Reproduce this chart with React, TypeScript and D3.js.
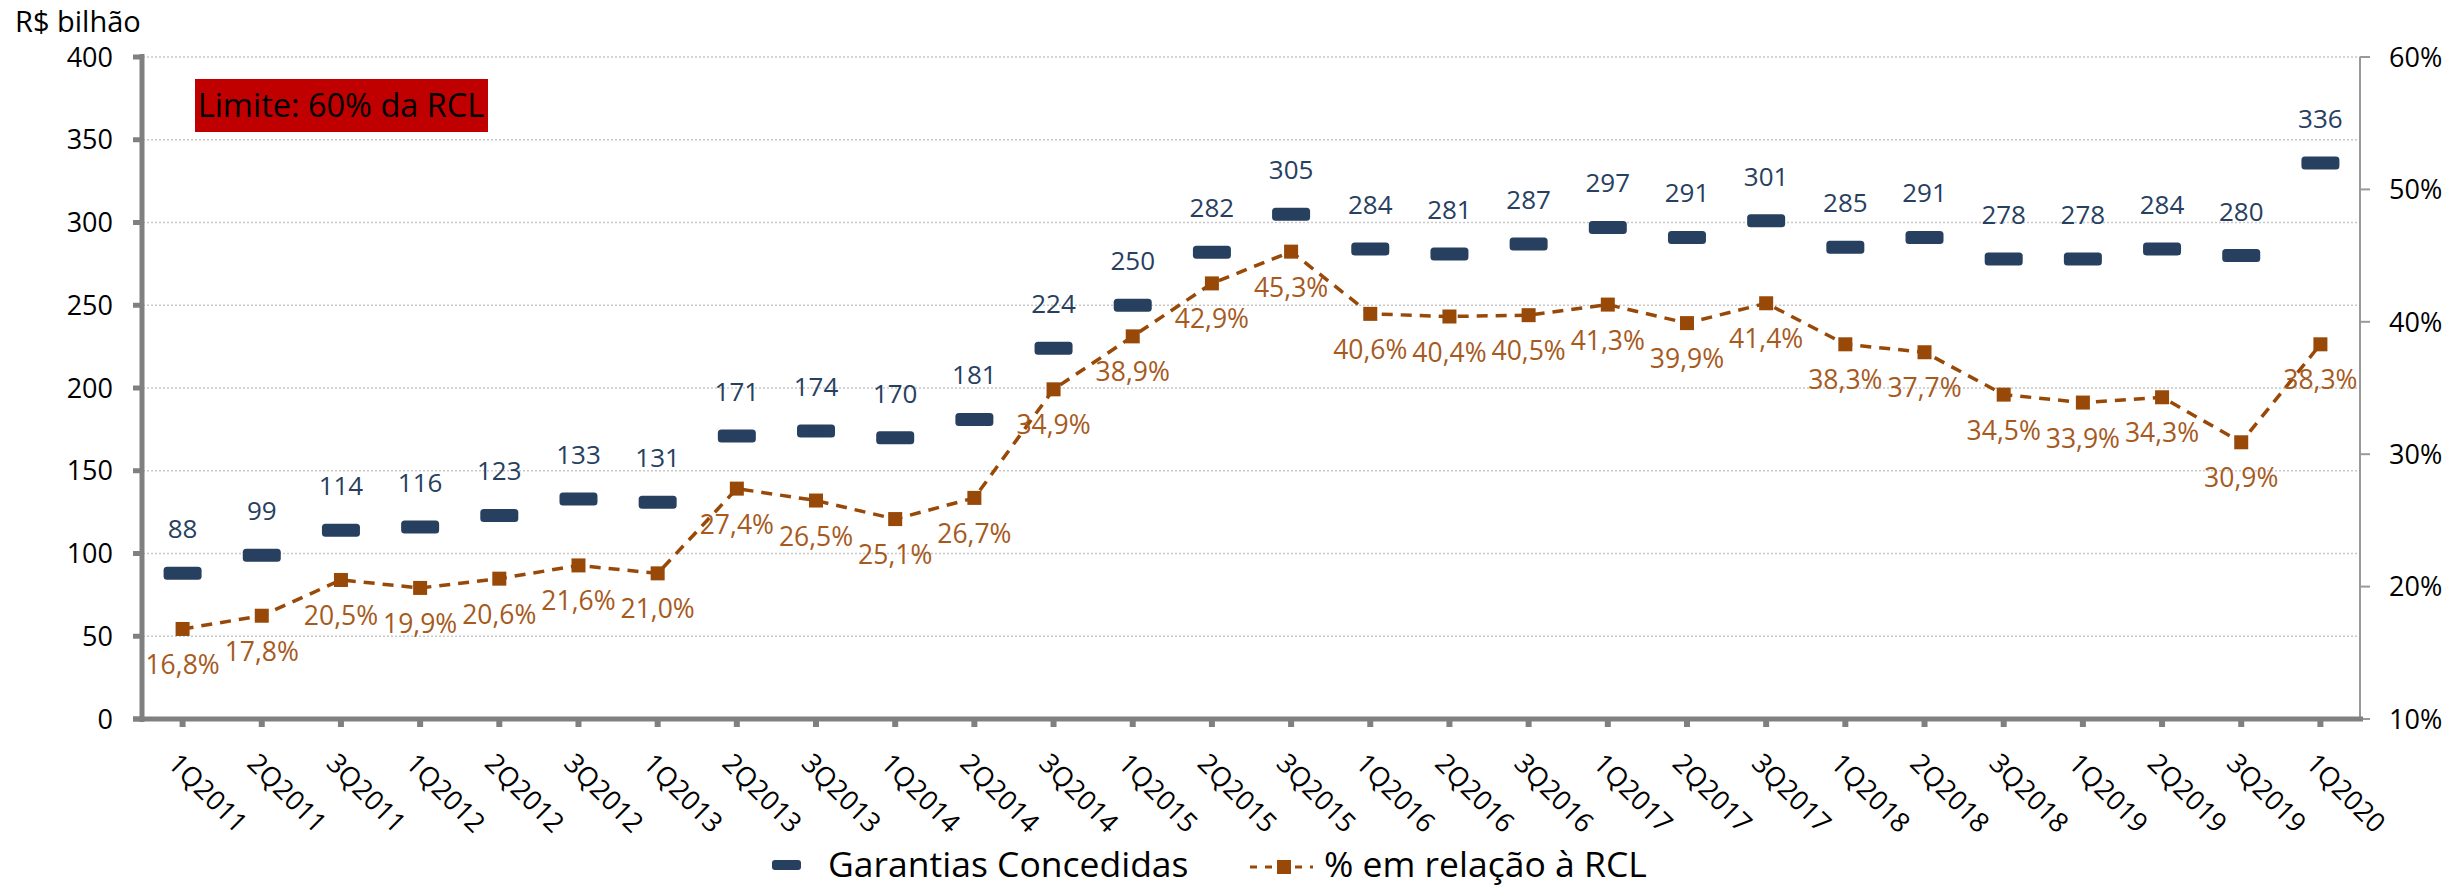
import React from "react";
import * as d3 from "d3";

const categories = [
  "1Q2011", "2Q2011", "3Q2011", "1Q2012", "2Q2012", "3Q2012", "1Q2013",
  "2Q2013", "3Q2013", "1Q2014", "2Q2014", "3Q2014", "1Q2015", "2Q2015",
  "3Q2015", "1Q2016", "2Q2016", "3Q2016", "1Q2017", "2Q2017", "3Q2017",
  "1Q2018", "2Q2018", "3Q2018", "1Q2019", "2Q2019", "3Q2019", "1Q2020",
];
const garantias = [
  88, 99, 114, 116, 123, 133, 131, 171, 174, 170, 181, 224, 250, 282, 305,
  284, 281, 287, 297, 291, 301, 285, 291, 278, 278, 284, 280, 336,
];
const percentRCL = [
  16.8, 17.8, 20.5, 19.9, 20.6, 21.6, 21.0, 27.4, 26.5, 25.1, 26.7, 34.9,
  38.9, 42.9, 45.3, 40.6, 40.4, 40.5, 41.3, 39.9, 41.4, 38.3, 37.7, 34.5,
  33.9, 34.3, 30.9, 38.3,
];
const leftTicks = [0, 50, 100, 150, 200, 250, 300, 350, 400];
const rightTicks = [10, 20, 30, 40, 50, 60];
const seriesNames = ["Garantias Concedidas", "% em relação à RCL"];
const yAxisTitle = "R$ bilhão";
const limitText = "Limite: 60% da RCL";

const W = 2463;
const H = 888;
const FONT = "'Open Sans', 'Noto Sans', sans-serif";
const NAVY = "#27405F";
const BROWN = "#984807";
const BROWN_LABEL = "#A65A1E";
const AXIS = "#808080";

export default function App() {
  const left = 143;
  const right = 2360;
  const top = 57;
  const bottom = 719;

  const x = d3.scalePoint<string>().domain(categories).range([left, right]).padding(0.5);
  const yL = d3.scaleLinear().domain([0, 400]).range([bottom, top]);
  const yR = d3.scaleLinear().domain([10, 60]).range([bottom, top]);
  const fmt = (v: number) => v.toFixed(1).replace(".", ",") + "%";

  const line = d3
    .line<number>()
    .x((_, i) => x(categories[i]) as number)
    .y((d) => yR(d));

  return (
    <svg
      width={W}
      height={H}
      style={{ position: "absolute", left: 0, top: 0, background: "#fff" }}
      fontFamily={FONT}
    >
      {/* gridlines */}
      {leftTicks.filter((t) => t > 0).map((t) => (
        <line key={"g" + t} x1={left} x2={right} y1={yL(t)} y2={yL(t)}
          stroke="#C8C8C8" strokeWidth={1.5} strokeDasharray="2 2" />
      ))}

      {/* limit box */}
      <rect x={195} y={79} width={293} height={53} fill="#C00000" />
      <text x={341} y={117} textAnchor="middle" fontSize={32.5} fill="#000">{limitText}</text>

      {/* y axis title */}
      <text x={15} y={32} fontSize={29} fill="#000">{yAxisTitle}</text>

      {/* left axis */}
      <line x1={left - 1} x2={left - 1} y1={top - 3} y2={bottom + 3} stroke={AXIS} strokeWidth={5} />
      {leftTicks.map((t) => (
        <g key={"lt" + t}>
          <line x1={133} x2={left} y1={yL(t)} y2={yL(t)} stroke={AXIS} strokeWidth={5} />
          <text x={113} y={yL(t)} dy="0.36em" textAnchor="end" fontSize={27} fill="#000">{t}</text>
        </g>
      ))}

      {/* right axis */}
      <line x1={right} x2={right} y1={top} y2={bottom} stroke="#999" strokeWidth={2} />
      {rightTicks.map((t) => (
        <g key={"rt" + t}>
          <line x1={right} x2={right + 10} y1={yR(t)} y2={yR(t)} stroke="#999" strokeWidth={2} />
          <text x={2389} y={yR(t)} dy="0.36em" textAnchor="start" fontSize={27} fill="#000">{t}%</text>
        </g>
      ))}

      {/* bottom axis */}
      <line x1={133} x2={right + 3} y1={bottom} y2={bottom} stroke={AXIS} strokeWidth={5} />
      {categories.map((c) => (
        <g key={"bt" + c}>
          <line x1={x(c)} x2={x(c)} y1={bottom} y2={bottom + 8} stroke={AXIS} strokeWidth={6} />
          <text
            transform={`translate(${(x(c) as number) - 16},${765}) rotate(45)`}
            fontSize={27}
            fill="#000"
          >
            {c}
          </text>
        </g>
      ))}

      {/* percent line */}
      <path d={line(percentRCL) || ""} fill="none" stroke={BROWN} strokeWidth={3.5} strokeDasharray="11 8" />
      {percentRCL.map((v, i) => (
        <rect key={"pm" + i} x={(x(categories[i]) as number) - 7} y={yR(v) - 7} width={14} height={14} fill={BROWN} />
      ))}
      {percentRCL.map((v, i) => (
        <text key={"pl" + i} x={x(categories[i])} y={yR(v) + 45} textAnchor="middle" fontSize={26.5} fill={BROWN_LABEL}>
          {fmt(v)}
        </text>
      ))}

      {/* garantias markers */}
      {garantias.map((v, i) => (
        <rect key={"gm" + i} x={(x(categories[i]) as number) - 19} y={yL(v) - 6.5} width={38} height={13} rx={3.5} fill={NAVY} />
      ))}
      {garantias.map((v, i) => (
        <text key={"gl" + i} x={x(categories[i])} y={yL(v) - 35} textAnchor="middle" fontSize={26} fill={NAVY}>
          {v}
        </text>
      ))}

      {/* legend */}
      <rect x={772} y={860} width={29} height={10} rx={3} fill={NAVY} />
      <text x={828} y={877} fontSize={35.5} fill="#000">{seriesNames[0]}</text>
      <line x1={1250} x2={1313} y1={867} y2={867} stroke={BROWN} strokeWidth={3} strokeDasharray="7 8" />
      <rect x={1277} y={860} width={14} height={14} fill={BROWN} />
      <text x={1324} y={877} fontSize={35.5} fill="#000">{seriesNames[1]}</text>
    </svg>
  );
}
